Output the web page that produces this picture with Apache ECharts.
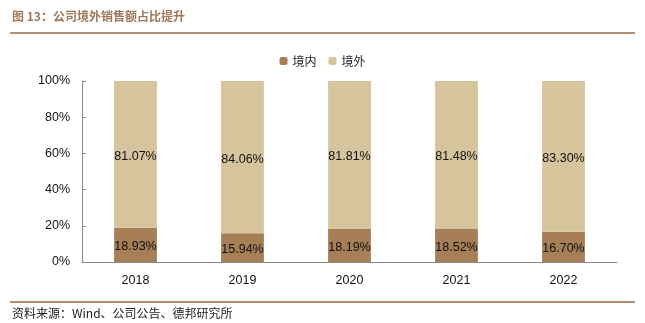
<!DOCTYPE html>
<html><head><meta charset="utf-8">
<script src="https://cdn.jsdelivr.net/npm/echarts@6/dist/echarts.min.js"></script>
<style>html,body{margin:0;padding:0;background:#fff;}#c{width:645px;height:323px;}</style>
</head><body><div id="c"></div>
<script>
const categories = ['2018','2019','2020','2021','2022'];
const domestic = [18.93, 15.94, 18.19, 18.52, 16.70];
const overseas = [81.07, 84.06, 81.81, 81.48, 83.30];
const yTicks = [0, 20, 40, 60, 80, 100];

const chart = echarts.init(document.getElementById('c'));
const lblFont = "Liberation Sans, Arial, sans-serif";
chart.setOption({
  animation: false,
  graphic: [
    {type:'text', left: 12, top: 10, style:{text:'图 13：公司境外销售额占比提升', font:'bold 12px "Noto Sans CJK SC"', fill:'#A0785A'}},
    {type:'rect', shape:{x:10, y:32, width:625, height:2}, style:{fill:'#B39073'}},
    {type:'rect', shape:{x:10, y:301, width:625, height:2}, style:{fill:'#B39073'}},
    {type:'text', left: 12, top: 307, style:{text:'资料来源：Wind、公司公告、德邦研究所', font:'12px "Noto Sans CJK SC"', fill:'#222'}}
  ],
  legend: {
    top: 50, left: 'center', itemWidth: 8, itemHeight: 8, itemGap: 12,
    textStyle: {fontFamily: '"Noto Sans CJK SC"', fontSize: 12, color: '#222'},
    data: ['境内','境外']
  },
  grid: {left: 82, right: 28, top: 81, bottom: 61},
  xAxis: {
    type: 'category', data: categories,
    axisLine: {lineStyle: {color: '#888'}},
    axisTick: {show: false},
    axisLabel: {color: '#111', fontSize: 12.5, fontFamily: lblFont, margin: 12}
  },
  yAxis: {
    type: 'value', min: 0, max: 100, interval: 20,
    axisLine: {show: true, lineStyle: {color: '#888'}},
    axisTick: {show: true, length: 4, inside: true, lineStyle:{color:'#888'}},
    splitLine: {show: false},
    axisLabel: {color: '#111', fontSize: 12.5, fontFamily: lblFont, margin: 12, formatter: v => v + '%'}
  },
  series: [
    {name: '境内', type: 'bar', stack: 'a', barWidth: '40%', data: domestic,
     itemStyle: {color: '#A67F57'},
     label: {show: true, position: 'inside', color: '#111', fontSize: 12.5, fontFamily: lblFont, offset:[0,2], formatter: p => p.value.toFixed(2) + '%'}},
    {name: '境外', type: 'bar', stack: 'a', barWidth: '40%', data: overseas,
     itemStyle: {color: '#D6C49C'},
     label: {show: true, position: 'inside', color: '#111', fontSize: 12.5, fontFamily: lblFont, offset:[0,2], formatter: p => p.value.toFixed(2) + '%'}}
  ]
});
</script></body></html>
